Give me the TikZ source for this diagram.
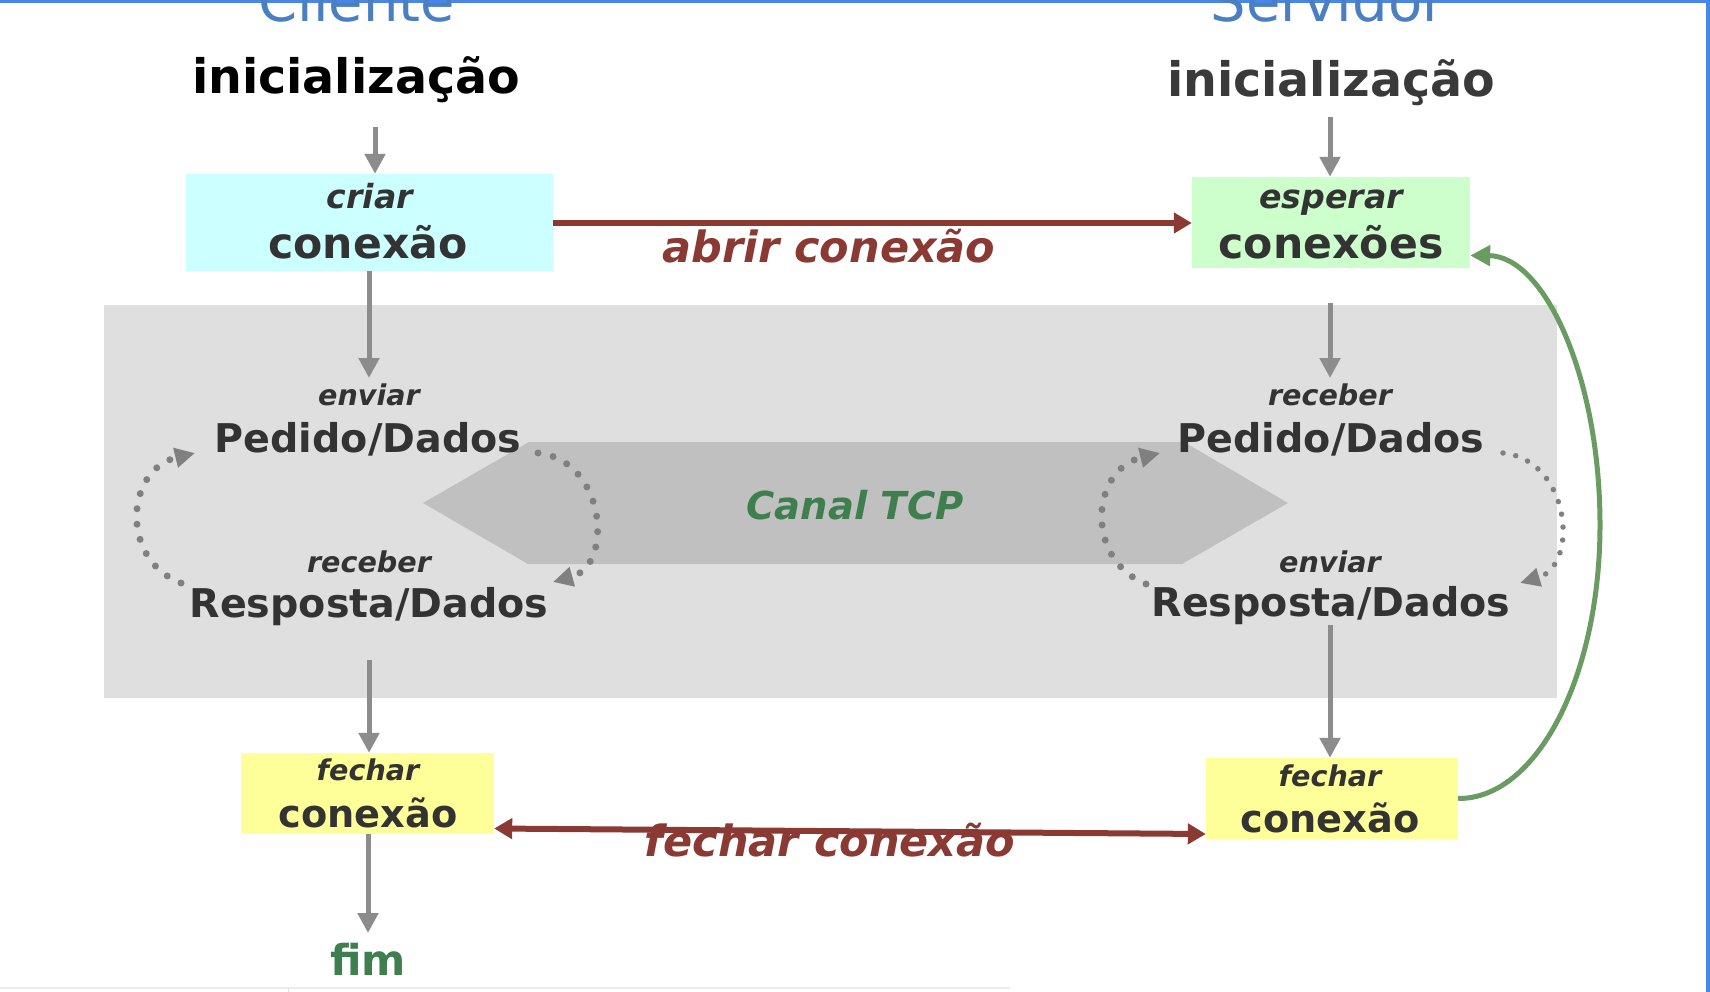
\documentclass[tikz,border=0pt]{standalone}
\usepackage{fontspec}
\setmainfont{DejaVu Sans}
\usetikzlibrary{arrows.meta}
\definecolor{txt}{HTML}{333333}
\definecolor{txtR}{HTML}{3A3A3A}
\definecolor{redc}{HTML}{8B3A33}
\definecolor{greent}{HTML}{3F7F4F}
\definecolor{greena}{HTML}{6A9B62}
\definecolor{bluet}{HTML}{4A7FC1}
\definecolor{blueb}{HTML}{4A86E8}
\definecolor{bggray}{HTML}{DFDFDF}
\definecolor{hexgray}{HTML}{C0C0C0}
\definecolor{arrgray}{HTML}{8C8C8C}
\definecolor{dotgray}{HTML}{808080}
\definecolor{cyanbox}{HTML}{CCFFFF}
\definecolor{greenbox}{HTML}{CCFFCC}
\definecolor{yellowbox}{HTML}{FFFF99}
\newcommand{\fsz}[1]{\fontsize{#1}{#1}\selectfont}
\begin{document}
\begin{tikzpicture}[x=1pt,y=-1pt,
  lbl/.style={anchor=base, inner sep=0pt, text=txt},
  big/.style={lbl, font=\bfseries\fsz{42.6}},
  small/.style={lbl, font=\bfseries\itshape\fsz{33.2}},
  mid/.style={lbl, font=\bfseries\fsz{39.6}},
  smi/.style={lbl, font=\bfseries\itshape\fsz{28.6}},
  redlbl/.style={lbl, text=redc, font=\bfseries\itshape\fsz{43}},
  abox/.style={draw=none, inner sep=0pt},
  garrow/.style={draw=arrgray, line width=5pt, -{Triangle[length=20pt,width=20pt]}},
  rarrow/.style={draw=redc, line width=6pt, -{Triangle[length=18pt,width=20pt]}},
  dotloop/.style={draw=dotgray, line width=7pt, line cap=round, dash pattern=on 0pt off 15.5pt, -{Triangle[length=20pt,width=19pt]}},
  dotloopR/.style={draw=dotgray, line width=5.5pt, line cap=round, dash pattern=on 0pt off 13pt, -{Triangle[length=20pt,width=18pt]}}
]
\useasboundingbox (0,0) rectangle (1710,992);
\fill[white] (0,0) rectangle (1710,992);
% frame lines
\fill[blueb] (0,0) rectangle (1710,3);
\fill[blueb] (1706,0) rectangle (1710,992);
\draw[black!8, line width=2pt] (0,988) -- (1010,988);
\draw[black!12, line width=1pt] (288,988) -- (288,992);

% titles
\node[lbl, text=bluet, font=\fsz{56}] (cli) at (357,22) {Cliente};
\node[lbl, text=bluet, font=\fsz{56}] (srv) at (1328,22) {Servidor};
\node[lbl, text=black, font=\bfseries\fsz{47.5}] (iniL) at (356,94) {inicialização};
\node[lbl, text=txtR, font=\bfseries\fsz{47.5}] (iniR) at (1331,97) {inicialização};

% TCP background and channel
\node[abox, fill=bggray, minimum width=1453pt, minimum height=393pt] (tcpbg) at (830.5,501.5) {};
\fill[hexgray] (423,503) -- (529,442) -- (1184,442) -- (1288,503) -- (1182,564) -- (528,564) -- cycle;
\node[lbl, text=greent, font=\bfseries\itshape\fsz{38.5}] (canal) at (855,519) {Canal TCP};

% boxes
\node[abox, fill=cyanbox, minimum width=367pt, minimum height=97pt] (cribox) at (369.5,222.5) {};
\node[abox, fill=greenbox, minimum width=278pt, minimum height=91pt] (espbox) at (1331,222.5) {};
\node[abox, fill=yellowbox, minimum width=253pt, minimum height=81pt] (fechL) at (367.5,793.5) {};
\node[abox, fill=yellowbox, minimum width=252pt, minimum height=81pt] (fechR) at (1332,798.5) {};

\node[small] (criar) at (370,209) {criar};
\node[big] (conA) at (368,259) {conexão};
\node[small] (esperar) at (1331,209) {esperar};
\node[big] (conB) at (1331,259) {conexões};

\node[smi] (envL) at (369,405) {enviar};
\node[mid] (pedL) at (368,452) {Pedido/Dados};
\node[smi] (recL) at (369,572) {receber};
\node[mid] (resL) at (369,617) {Resposta/Dados};

\node[smi] (recR) at (1330,405) {receber};
\node[mid] (pedR) at (1331,452) {Pedido/Dados};
\node[smi] (envR) at (1330,572) {enviar};
\node[mid] (resR) at (1331,616) {Resposta/Dados};

\node[smi] (fcL) at (368,780) {fechar};
\node[lbl, font=\bfseries\fsz{38.3}] (cnL) at (368,827) {conexão};
\node[smi] (fcR) at (1330,786) {fechar};
\node[lbl, font=\bfseries\fsz{38.3}] (cnR) at (1330,832) {conexão};

\node[lbl, text=greent, font=\bfseries\fsz{42.5}] (fim) at (368,975) {fim};

% gray vertical arrows
\coordinate (a1) at (375,127);
\draw[garrow] (a1) -- (a1 |- cribox.north);
\coordinate (a2) at (1330,117);
\draw[garrow] (a2) -- (a2 |- espbox.north);
\coordinate (a3) at (369,378);
\draw[garrow] (cribox.south -| a3) -- (a3);
\coordinate (a4s) at (1330,303);
\coordinate (a4) at (1330,378);
\draw[garrow] (a4s) -- (a4);
\coordinate (a5s) at (369,660);
\draw[garrow] (a5s) -- (a5s |- fechL.north);
\coordinate (a6s) at (1330,625);
\draw[garrow] (a6s) -- (a6s |- fechR.north);
\coordinate (a7) at (368,933);
\draw[garrow] (fechL.south -| a7) -- (a7);

% red connection arrows
\draw[rarrow] (cribox.east |- 0,223) -- (espbox.west |- 0,223);
\node[redlbl] (abrir) at (829,262) {abrir conexão};
\draw[rarrow, {Triangle[length=18pt,width=20pt]}-{Triangle[length=18pt,width=20pt]}] ([yshift=-35pt]fechL.east) -- ([yshift=-35.5pt]fechR.west);
\node[redlbl] (fclbl) at (830,856) {fechar conexão};

% dotted loops
\coordinate (l1s) at (181,583); \coordinate (l1e) at (195,453);
\draw[dotloop] (l1s) .. controls (120,560) and (125,470) .. (l1e);
\coordinate (l2s) at (538,453); \coordinate (l2e) at (553,582);
\draw[dotloop] (l2s) .. controls (605,460) and (615,565) .. (l2e);
\coordinate (l3s) at (1146,584); \coordinate (l3e) at (1160,453);
\draw[dotloop] (l3s) .. controls (1085,560) and (1090,470) .. (l3e);
\coordinate (l4s) at (1503,453); \coordinate (l4e) at (1520,583);
\draw[dotloopR] (l4s) .. controls (1570,460) and (1580,565) .. (l4e);

% green return arc
\draw[draw=greena, line width=5pt, -{Triangle[length=20pt,width=20pt]}]
  (fechR.east) .. controls (1537,799) and (1600,676) .. (1600,525)
  .. controls (1600,376) and (1544,256) .. ([yshift=-33pt]espbox.east);
\end{tikzpicture}
\end{document}
